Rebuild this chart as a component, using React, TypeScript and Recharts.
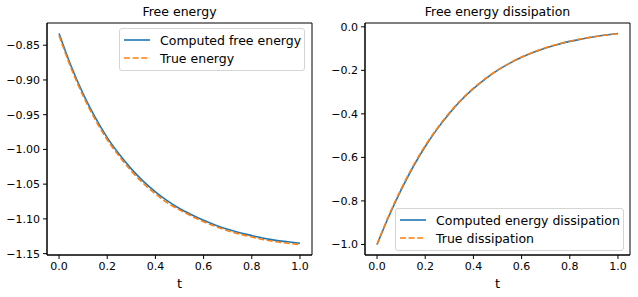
import React from "react"
import { LineChart, Line, XAxis, YAxis, Legend, ReferenceArea } from "recharts"

// time grid and values
const tValues = [0, 0.05, 0.1, 0.15, 0.2, 0.25, 0.3, 0.35, 0.4, 0.45, 0.5, 0.55, 0.6, 0.65, 0.7, 0.75, 0.8, 0.85, 0.9, 0.95, 1.0]

const computedEnergy = [-0.833, -0.88, -0.92, -0.954, -0.983, -1.007, -1.028, -1.046, -1.061, -1.074, -1.085, -1.094, -1.102, -1.109, -1.115, -1.12, -1.124, -1.128, -1.131, -1.133, -1.135]
const trueEnergy = [-0.836, -0.883, -0.923, -0.957, -0.986, -1.01, -1.031, -1.049, -1.064, -1.077, -1.087, -1.096, -1.104, -1.111, -1.117, -1.122, -1.126, -1.13, -1.133, -1.135, -1.137]

const computedDissipation = [-1.0, -0.868, -0.749, -0.643, -0.55, -0.469, -0.398, -0.336, -0.284, -0.239, -0.2, -0.168, -0.14, -0.117, -0.097, -0.081, -0.067, -0.056, -0.046, -0.038, -0.031]
const trueDissipation = [-1.0, -0.864, -0.745, -0.639, -0.546, -0.466, -0.395, -0.334, -0.282, -0.237, -0.199, -0.167, -0.139, -0.116, -0.096, -0.08, -0.066, -0.055, -0.046, -0.038, -0.031]

const tTicks = [0, 0.2, 0.4, 0.6, 0.8, 1.0]
const energyTicks = [-1.15, -1.1, -1.05, -1.0, -0.95, -0.9, -0.85]
const dissipationTicks = [-1.0, -0.8, -0.6, -0.4, -0.2, 0]

const energyData = tValues.map((t, i) => ({ t, computed: computedEnergy[i], exact: trueEnergy[i] }))
const dissipationData = tValues.map((t, i) => ({ t, computed: computedDissipation[i], exact: trueDissipation[i] }))

const BLUE = "#1f77b4"
const ORANGE = "#ff7f0e"
const FONT = "'DejaVu Sans', sans-serif"
const DASH = "6 2.6"
const X_DOMAIN: [number, number] = [-0.05, 1.05]

const fmt = (d: number) => (v: number) => {
  const s = Math.abs(v).toFixed(d)
  return v < -1e-9 ? "\u2212" + s : s
}

const tickStyle = { fill: "#000", fontSize: 11, fontFamily: FONT }

const LegendBox = ({ payload }: any) => (
  <div
    style={{
      border: "1px solid #d4d4d4",
      borderRadius: 3,
      background: "rgba(255,255,255,0.85)",
      padding: "2px 4px",
      boxSizing: "border-box",
      fontFamily: FONT,
    }}
  >
    {(payload || []).map((entry: any) => (
      <div key={entry.value} style={{ display: "flex", alignItems: "center", height: 18.3 }}>
        <svg width={26} height={4} style={{ marginRight: 10, flex: "none" }}>
          <line
            x1={0}
            y1={2}
            x2={26}
            y2={2}
            stroke={entry.color}
            strokeWidth={1.6}
            strokeDasharray={entry.dataKey === "exact" ? DASH : undefined}
          />
        </svg>
        <span style={{ fontSize: 12.5, color: "#000", whiteSpace: "nowrap" }}>{entry.value}</span>
      </div>
    ))}
  </div>
)

interface PanelProps {
  left: number
  title: string
  data: any[]
  yDomain: [number, number]
  yTicks: number[]
  yDigits: number
  names: [string, string]
  legendPos: { left: number; top: number; width: number }
}

const Panel = ({ left, title, data, yDomain, yTicks, yDigits, names, legendPos }: PanelProps) => (
  <div style={{ position: "absolute", left, top: 0, width: 320, height: 297 }}>
    <div
      style={{
        position: "absolute",
        left: 47,
        width: 265,
        top: 6,
        textAlign: "center",
        fontSize: 12.5,
        lineHeight: "12.5px",
        fontFamily: FONT,
        color: "#000",
      }}
    >
      {title}
    </div>
    <LineChart width={320} height={297} data={data} margin={{ top: 23, right: 8, bottom: 0, left: 0 }}>
      <XAxis
        dataKey="t"
        type="number"
        domain={X_DOMAIN}
        ticks={tTicks}
        interval={0}
        allowDataOverflow
        tickFormatter={fmt(1)}
        tick={tickStyle}
        tickSize={4}
        tickMargin={3}
        height={42}
        axisLine={{ stroke: "#000" }}
        tickLine={{ stroke: "#000" }}
        label={{ value: "t", position: "insideBottom", offset: 9, fill: "#000", fontSize: 13, fontFamily: FONT }}
      />
      <YAxis
        type="number"
        domain={yDomain}
        ticks={yTicks}
        interval={0}
        allowDataOverflow
        tickFormatter={fmt(yDigits)}
        tick={tickStyle}
        tickSize={4}
        tickMargin={3}
        width={47}
        axisLine={{ stroke: "#000" }}
        tickLine={{ stroke: "#000" }}
      />
      <ReferenceArea
        x1={X_DOMAIN[0]}
        x2={X_DOMAIN[1]}
        y1={yDomain[0]}
        y2={yDomain[1]}
        fill="none"
        stroke="#000"
        strokeWidth={1}
        fillOpacity={0}
      />
      <Legend
        layout="vertical"
        align="center"
        verticalAlign="middle"
        wrapperStyle={{ left: legendPos.left, top: legendPos.top, width: legendPos.width }}
        content={<LegendBox />}
      />
      <Line
        type="monotone"
        dataKey="computed"
        name={names[0]}
        stroke={BLUE}
        strokeWidth={1.6}
        dot={false}
        isAnimationActive={false}
      />
      <Line
        type="monotone"
        dataKey="exact"
        name={names[1]}
        stroke={ORANGE}
        strokeWidth={1.6}
        strokeDasharray={DASH}
        dot={false}
        isAnimationActive={false}
      />
    </LineChart>
  </div>
)

export default function App() {
  return (
    <div style={{ position: "absolute", left: 0, top: 0, width: 638, height: 297, background: "#fff", fontFamily: FONT }}>
      <Panel
        left={0}
        title="Free energy"
        data={energyData}
        yDomain={[-1.152, -0.818]}
        yTicks={energyTicks}
        yDigits={2}
        names={["Computed free energy", "True energy"]}
        legendPos={{ left: 119, top: 28, width: 186 }}
      />
      <Panel
        left={318}
        title="Free energy dissipation"
        data={dissipationData}
        yDomain={[-1.0485, 0.0175]}
        yTicks={dissipationTicks}
        yDigits={1}
        names={["Computed energy dissipation", "True dissipation"]}
        legendPos={{ left: 77, top: 208, width: 229 }}
      />
    </div>
  )
}
